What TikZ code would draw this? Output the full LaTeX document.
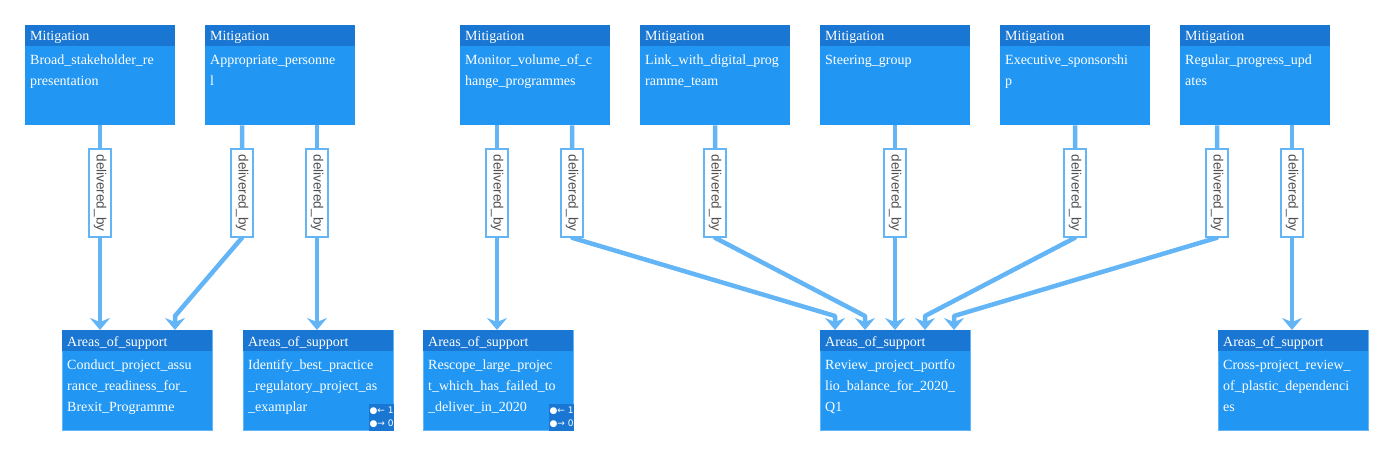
\documentclass[tikz,border=0pt]{standalone}
\usepackage{fontspec}
\setmainfont{Liberation Serif}
\setsansfont{Liberation Sans}
\newfontfamily\symfont{DejaVu Sans}
\usetikzlibrary{arrows.meta,backgrounds}
\definecolor{hdr}{HTML}{1976D2}
\definecolor{body}{HTML}{2196F3}
\definecolor{edg}{HTML}{64B5F6}
\definecolor{labtxt}{HTML}{505050}
\tikzset{
  boxbody/.style={fill=body,draw=none,minimum width=150pt,minimum height=100pt,inner sep=0pt,anchor=north west},
  abox/.style={boxbody,draw=edg,line width=0.8pt},
  hdrtext/.style={anchor=base west,inner sep=0pt,text=white,font=\fontsize{14}{16}\selectfont},
  bodytext/.style={anchor=north west,inner sep=0pt,text=white,align=left,font=\fontsize{14}{20.8}\selectfont},
  lab/.style={rotate=-90,fill=white,draw=edg,line width=1.5pt,minimum width=88pt,minimum height=22pt,inner sep=0pt,text=labtxt,font=\sffamily\fontsize{13.5}{15}\selectfont},
  edge/.style={draw=edg,line width=4.5pt,line join=round,-{Stealth[length=12pt,width=20pt,inset=4pt]}},
  badge/.style={fill=hdr,anchor=south east,minimum width=25pt,minimum height=27pt,inner sep=0pt},
  badgetext/.style={anchor=west,inner sep=0pt,text=white,font=\symfont\fontsize{9}{10}\selectfont}
}
\newcommand{\mybox}[5]{% name, x, y, header, body
  \node[boxbody] (#1) at (#2,#3) {};
  \fill[hdr] (#1.north west) rectangle ([yshift=-20.5pt]#1.north east);
  \node[hdrtext] (#1h) at ([xshift=5pt,yshift=-15.5pt]#1.north west) {#4};
  \node[bodytext] (#1t) at ([xshift=5pt,yshift=-27pt]#1.north west) {\rule{0pt}{12pt}#5};
}
\newcommand{\myabox}[5]{% name, x, y, header, body
  \node[abox] (#1) at (#2,#3) {};
  \fill[hdr] ([shift={(0.4pt,-0.4pt)}]#1.north west) rectangle ([shift={(-0.4pt,-21pt)}]#1.north east);
  \node[hdrtext] (#1h) at ([xshift=5pt,yshift=-16pt]#1.north west) {#4};
  \node[bodytext] (#1t) at ([xshift=5pt,yshift=-27.5pt]#1.north west) {\rule{0pt}{12pt}#5};
}
\begin{document}
\begin{tikzpicture}[x=1pt,y=-1pt]
\useasboundingbox (0,0) rectangle (1392,455);
% Mitigation boxes
\mybox{m1}{25}{25}{Mitigation}{Broad\_stakeholder\_re\\presentation}
\mybox{m2}{205}{25}{Mitigation}{Appropriate\_personne\\l}
\mybox{m3}{460}{25}{Mitigation}{Monitor\_volume\_of\_c\\hange\_programmes}
\mybox{m4}{640}{25}{Mitigation}{Link\_with\_digital\_prog\\ramme\_team}
\mybox{m5}{820}{25}{Mitigation}{Steering\_group}
\mybox{m6}{1000}{25}{Mitigation}{Executive\_sponsorshi\\p}
\mybox{m7}{1180}{25}{Mitigation}{Regular\_progress\_upd\\ates}
% Areas of support boxes
\myabox{a1}{62}{330}{Areas\_of\_support}{Conduct\_project\_assu\\rance\_readiness\_for\_\\Brexit\_Programme}
\myabox{a2}{243}{330}{Areas\_of\_support}{Identify\_best\_practice\\\_regulatory\_project\_as\\\_examplar}
\myabox{a3}{423}{330}{Areas\_of\_support}{Rescope\_large\_projec\\t\_which\_has\_failed\_to\\\_deliver\_in\_2020}
\myabox{a4}{820}{330}{Areas\_of\_support}{Review\_project\_portfo\\lio\_balance\_for\_2020\_\\Q1}
\myabox{a5}{1218}{330}{Areas\_of\_support}{Cross-project\_review\_\\of\_plastic\_dependenci\\es}
% badges
\begin{scope}
\clip (a2.north west) rectangle (a2.south east);
\node[badge] (b2) at (a2.south east) {};
\node[badgetext] (b2a) at ([xshift=1pt,yshift=6.5pt]b2.west) {●← 1};
\node[badgetext] (b2b) at ([xshift=1pt,yshift=-6.5pt]b2.west) {●→ 0};
\end{scope}
\begin{scope}
\clip (a3.north west) rectangle (a3.south east);
\node[badge] (b3) at (a3.south east) {};
\node[badgetext] (b3a) at ([xshift=1pt,yshift=6.5pt]b3.west) {●← 1};
\node[badgetext] (b3b) at ([xshift=1pt,yshift=-6.5pt]b3.west) {●→ 0};
\end{scope}
% labels
\foreach \n/\x in {1/100,2/242,3/317,4/497,5/572,6/715,7/895,8/1075,9/1217,10/1292}{
  \node[lab] (L\n) at (\x,193) {delivered\_by};
}
% bend coordinates
\coordinate (k2) at (175,316);
\coordinate (k5) at (835,316);
\coordinate (k6) at (865,316);
\coordinate (k8) at (925,316);
\coordinate (k9) at (954,316);
\begin{scope}[on background layer]
% straight edges
\foreach \n/\m/\a in {1/m1/a1,3/m2/a2,4/m3/a3,7/m5/a4,10/m7/a5}{
  \draw[edge] (\m.south -| L\n.center) -- (L\n.center) -- (L\n.center |- \a.north);
}
% bent edges
\foreach \n/\m/\a in {2/m2/a1,5/m3/a4,6/m4/a4,8/m6/a4,9/m7/a4}{
  \draw[edge] (\m.south -| L\n.center) -- (L\n.center) -- (L\n.east) -- (k\n) -- (k\n |- \a.north);
}
\end{scope}
\end{tikzpicture}
\end{document}
